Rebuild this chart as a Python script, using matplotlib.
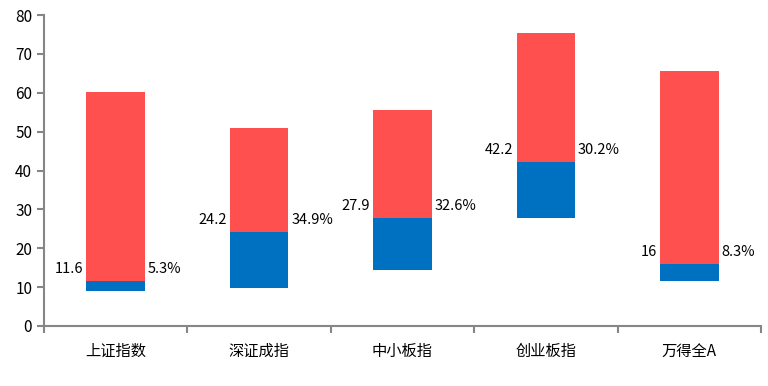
import matplotlib.pyplot as plt
import numpy as np

plt.rcParams['font.family'] = ['Noto Sans CJK SC', 'DejaVu Sans']

# index names and valuation range (low / current / high)
names = ['上证指数', '深证成指', '中小板指', '创业板指', '万得全A']
low = [8.9, 9.8, 14.5, 27.8, 11.5]
current = [11.6, 24.2, 27.9, 42.2, 16.0]
high = [60.2, 50.9, 55.6, 75.4, 65.6]
pct_labels = ['5.3%', '34.9%', '32.6%', '30.2%', '8.3%']

red = '#FF5050'
blue = '#0070C0'
grey = '#868686'

fig = plt.figure(figsize=(7.68, 3.86), dpi=100)
ax = fig.add_axes([44 / 768, 1 - 326 / 386, 717 / 768, 311 / 386])

x = np.arange(len(names))
low = np.array(low)
current = np.array(current)
high = np.array(high)
w = 0.41

ax.bar(x, current - low, bottom=low, width=w, color=blue, zorder=2)
ax.bar(x, high - current, bottom=current, width=w, color=red, zorder=2)

for i in range(len(names)):
    ax.annotate(f'{current[i]:g}', (x[i] - w / 2, current[i] + 3),
                xytext=(-2, 0), textcoords='offset points',
                ha='right', va='center', fontsize=10.5)
    ax.annotate(pct_labels[i], (x[i] + w / 2, current[i] + 3),
                xytext=(2, 0), textcoords='offset points',
                ha='left', va='center', fontsize=10.5)

ax.set_xlim(-0.5, len(names) - 0.5)
ax.set_ylim(0, 80)
ax.set_yticks(range(0, 81, 10))

ax.set_xticks(np.arange(-0.5, len(names)), [''] * (len(names) + 1))
ax.set_xticks(x, names, minor=True)
ax.tick_params(axis='x', which='major', length=5, width=1.5, color=grey)
ax.tick_params(axis='x', which='minor', length=0, labelsize=11, pad=12)
ax.tick_params(axis='y', length=5, width=1.5, color=grey, labelsize=11)

for s in ['top', 'right']:
    ax.spines[s].set_visible(False)
for s in ['left', 'bottom']:
    ax.spines[s].set_color(grey)
    ax.spines[s].set_linewidth(1.5)

fig.savefig('out.png', dpi=100)
